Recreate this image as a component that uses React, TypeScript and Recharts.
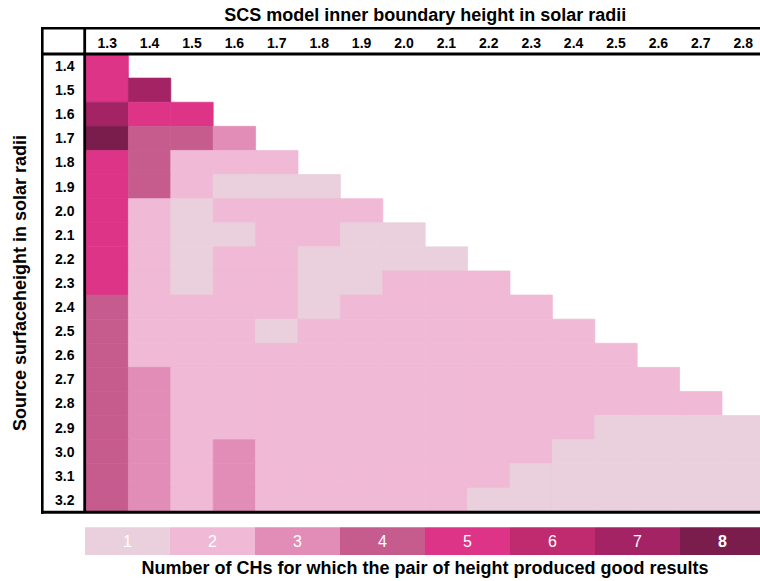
import React from 'react';
import {
  ScatterChart,
  XAxis,
  YAxis,
  ReferenceArea,
  BarChart,
  Bar,
  Cell,
  LabelList,
} from 'recharts';

// Inner boundary heights of the SCS model (columns), in solar radii
const innerHeights = ['1.3', '1.4', '1.5', '1.6', '1.7', '1.8', '1.9', '2.0', '2.1', '2.2', '2.3', '2.4', '2.5', '2.6', '2.7', '2.8'];

// Source surface heights (rows), in solar radii
const sourceHeights = ['1.4', '1.5', '1.6', '1.7', '1.8', '1.9', '2.0', '2.1', '2.2', '2.3', '2.4', '2.5', '2.6', '2.7', '2.8', '2.9', '3.0', '3.1', '3.2'];

// Number of CHs with good results; each row starts at inner height 1.3
const goodCounts: number[][] = [
  [5],
  [5, 7],
  [7, 5, 5],
  [8, 4, 4, 3],
  [5, 4, 2, 2, 2],
  [5, 4, 2, 1, 1, 1],
  [5, 2, 1, 2, 2, 2, 2],
  [5, 2, 1, 1, 2, 2, 1, 1],
  [5, 2, 1, 2, 2, 1, 1, 1, 1],
  [5, 2, 1, 2, 2, 1, 1, 2, 2, 2],
  [4, 2, 2, 2, 2, 1, 2, 2, 2, 2, 2],
  [4, 2, 2, 2, 1, 2, 2, 2, 2, 2, 2, 2],
  [4, 2, 2, 2, 2, 2, 2, 2, 2, 2, 2, 2, 2],
  [4, 3, 2, 2, 2, 2, 2, 2, 2, 2, 2, 2, 2, 2],
  [4, 3, 2, 2, 2, 2, 2, 2, 2, 2, 2, 2, 2, 2, 2],
  [4, 3, 2, 2, 2, 2, 2, 2, 2, 2, 2, 2, 1, 1, 1, 1],
  [4, 3, 2, 3, 2, 2, 2, 2, 2, 2, 2, 1, 1, 1, 1, 1],
  [4, 3, 2, 3, 2, 2, 2, 2, 2, 2, 1, 1, 1, 1, 1, 1],
  [4, 3, 2, 3, 2, 2, 2, 2, 2, 1, 1, 1, 1, 1, 1, 1],
];

// Colour scale levels
const countLevels = [1, 2, 3, 4, 5, 6, 7, 8];
const levelColors = ['#E9D0DC', '#F0B9D5', '#E28DB8', '#C65B8E', '#DE3487', '#C02A6E', '#A42365', '#7B1D4C'];

const FONT = '"Liberation Sans", Arial, Helvetica, sans-serif';

const cells = goodCounts.flatMap((row, r) =>
  row.map((count, c) => ({ row: r, col: c, count }))
);

const legendData = countLevels.map((level) => ({ level, span: 1 }));

const colTicks = innerHeights.map((_, i) => i + 0.5);
const rowTicks = sourceHeights.map((_, i) => i + 0.5);

const RowTick = (props: any) => {
  const { x, y, payload } = props;
  return (
    <text
      x={x - 21.3}
      y={y}
      dy="0.355em"
      textAnchor="middle"
      fill="#000"
      fontSize={14}
      fontWeight="bold"
    >
      {sourceHeights[Math.floor(payload.value)]}
    </text>
  );
};

const YTitle = (props: any) => {
  const vb = props.viewBox;
  const x = vb.x - 16;
  const y = vb.y + vb.height / 2;
  return (
    <text
      x={x}
      y={y}
      transform={`rotate(-90, ${x}, ${y})`}
      textAnchor="middle"
      fill="#000"
      fontSize={18}
      fontWeight="bold"
    >
      Source surfaceheight in solar radii
    </text>
  );
};

const LevelLabel = (props: any) => {
  const { x, y, width, height, value } = props;
  return (
    <text
      x={x + width / 2}
      y={y + height / 2}
      dy="0.355em"
      textAnchor="middle"
      fill="#fff"
      fontSize={16}
      fontWeight={value === 8 ? 'bold' : 'normal'}
    >
      {value}
    </text>
  );
};

export default function App() {
  return (
    <div
      style={{
        position: 'absolute',
        left: 0,
        top: 0,
        width: 760,
        height: 581,
        overflow: 'hidden',
        background: '#fff',
        fontFamily: FONT,
      }}
    >
      <div style={{ position: 'absolute', left: 0, top: 0 }}>
        <ScatterChart
          width={776}
          height={520}
          margin={{ top: 28, left: 42, right: 11.6, bottom: 8 }}
        >
          <XAxis
            type="number"
            dataKey="x"
            xAxisId="cols"
            orientation="top"
            domain={[0, innerHeights.length]}
            ticks={colTicks}
            interval={0}
            tickFormatter={(v: number) => innerHeights[Math.floor(v)]}
            height={26}
            axisLine={false}
            tickLine={false}
            tickSize={0}
            tickMargin={6.5}
            tick={{ fill: '#000', fontSize: 14, fontWeight: 'bold' }}
            allowDataOverflow
            label={{
              value: 'SCS model inner boundary height in solar radii',
              position: 'top',
              offset: 7.5,
              fill: '#000',
              fontSize: 18,
              fontWeight: 'bold',
            }}
          />
          <YAxis
            type="number"
            dataKey="y"
            yAxisId="rows"
            domain={[0, sourceHeights.length]}
            reversed
            ticks={rowTicks}
            interval={0}
            width={44}
            axisLine={false}
            tickLine={false}
            tickSize={0}
            tickMargin={0}
            tick={<RowTick />}
            allowDataOverflow
            label={{ content: <YTitle /> }}
          />
          {cells.map((cell) => (
            <ReferenceArea
              key={`${cell.row}-${cell.col}`}
              xAxisId="cols"
              yAxisId="rows"
              x1={cell.col}
              x2={cell.col + 1}
              y1={cell.row}
              y2={cell.row + 1}
              fill={levelColors[cell.count - 1]}
              fillOpacity={1}
              stroke={levelColors[cell.count - 1]}
              strokeWidth={0.7}
              ifOverflow="visible"
            />
          ))}
        </ScatterChart>
      </div>

      {/* table frame */}
      <svg
        width={760}
        height={581}
        style={{ position: 'absolute', left: 0, top: 0, pointerEvents: 'none' }}
      >
        <line x1={42.3} y1={27} x2={42.3} y2={513.8} stroke="#000" strokeWidth={2.6} />
        <line x1={41} y1={28.3} x2={760} y2={28.3} stroke="#000" strokeWidth={2.6} />
        <line x1={41} y1={54} x2={760} y2={54} stroke="#000" strokeWidth={2.8} />
        <line x1={84.7} y1={28} x2={84.7} y2={513} stroke="#000" strokeWidth={2.8} />
        <line x1={41} y1={512.3} x2={760} y2={512.3} stroke="#000" strokeWidth={3} />
      </svg>

      {/* colour scale */}
      <div style={{ position: 'absolute', left: 0, top: 520 }}>
        <BarChart
          width={776}
          height={61}
          data={legendData}
          margin={{ top: 7.3, left: 85, right: 11, bottom: 0 }}
          barCategoryGap={0}
          barGap={0}
        >
          <XAxis
            dataKey="level"
            height={26}
            axisLine={false}
            tickLine={false}
            tick={false}
            label={{
              value: 'Number of CHs for which the pair of height produced good results',
              position: 'insideBottom',
              offset: 7,
              fill: '#000',
              fontSize: 18,
              fontWeight: 'bold',
            }}
          />
          <YAxis hide domain={[0, 1]} />
          <Bar dataKey="span" isAnimationActive={false}>
            {legendData.map((d) => (
              <Cell key={d.level} fill={levelColors[d.level - 1]} />
            ))}
            <LabelList dataKey="level" content={<LevelLabel />} />
          </Bar>
        </BarChart>
      </div>
    </div>
  );
}
